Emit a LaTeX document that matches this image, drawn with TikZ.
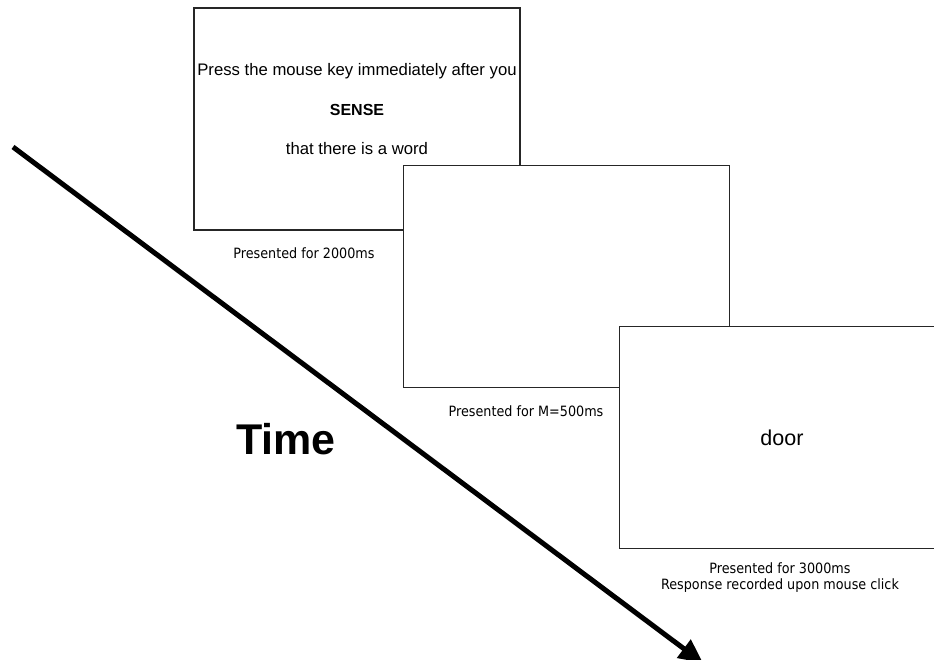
\documentclass[tikz,border=0pt]{standalone}
\usepackage{fontspec}
\setmainfont{Liberation Sans}
\newfontfamily\capfont{DejaVu Sans Condensed}
\usetikzlibrary{arrows.meta}
\begin{document}
\begin{tikzpicture}[x=1pt,y=-1pt,
  screen/.style={draw=black!85,line width=1.2pt,fill=white,minimum width=326pt,minimum height=222pt,inner sep=0pt},
  stim/.style={font=\fontsize{16.7}{19}\selectfont,inner sep=0pt,anchor=center},
  caption/.style={font=\capfont\fontsize{14.2}{16}\selectfont,inner sep=0pt,anchor=center}]
\useasboundingbox (0,0) rectangle (934,660);
\node[screen] (s1) at (357,119) {};
\node[stim] (t1) at (357,71) {Press the mouse key immediately after you};
\node[stim,font=\fontsize{16}{18}\selectfont\bfseries] (t2) at (357,110) {SENSE};
\node[stim] (t3) at (357,149) {that there is a word};
\node[caption] (c1) at (304,253) {Presented for 2000ms};
\node[screen] (s2) at (566.5,276.7) {};
\node[caption] (c2) at (526,411) {Presented for M=500ms};
\node[screen] (s3) at (782.3,437.2) {};
\node[stim,font=\fontsize{21.5}{24}\selectfont] (w) at (782,438) {door};
\node[caption] (c3) at (780,568) {Presented for 3000ms};
\node[caption] (c4) at (780,586) {Response recorded upon mouse click};
\node[font=\fontsize{43}{50}\selectfont\bfseries,inner sep=0pt] (time) at (286,439) {Time};
\coordinate (a0) at (13,147);
\coordinate (a1) at (703,663);
\draw[line width=5pt,-{Triangle[length=24pt,width=22pt]}] (a0) -- (a1);
\end{tikzpicture}
\end{document}
